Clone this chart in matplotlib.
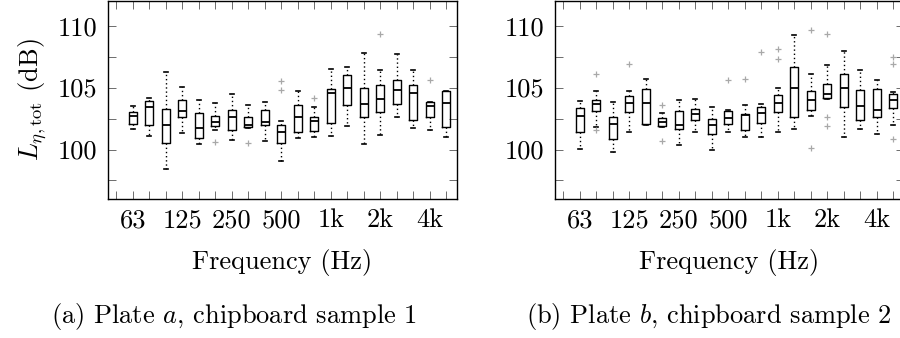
import matplotlib
matplotlib.use("Agg")
import matplotlib.pyplot as plt

plt.rcParams["font.family"] = "cmr10"
plt.rcParams["mathtext.fontset"] = "cm"
plt.rcParams["axes.unicode_minus"] = False
plt.rcParams["font.size"] = 19

# One-third octave bands, 50 Hz .. 5 kHz (50 Hz has no data)
bands = ["50", "63", "80", "100", "125", "160", "200", "250", "315", "400", "500",
         "630", "800", "1k", "1.25k", "1.6k", "2k", "2.5k", "3.15k", "4k", "5k"]
tick_labels_shown = ["63", "125", "250", "500", "1k", "2k", "4k"]

# Plate a, chipboard sample 1
a_whislo = [101.67, 101.13, 98.41, 101.35, 100.44, 101.59, 100.78, 101.75, 100.65, 99.09,
            100.89, 101.05, 101.13, 101.86, 100.44, 101.21, 102.62, 101.73, 101.59, 100.97]
a_q1 = [102.05, 101.97, 100.54, 102.59, 100.95, 101.92, 101.54, 101.81, 101.94, 100.49,
        101.40, 101.49, 102.13, 103.56, 102.62, 103.02, 103.69, 102.40, 102.62, 101.81]
a_med = [102.72, 103.45, 101.94, 103.10, 101.75, 102.21, 102.59, 102.02, 102.24, 101.38,
         102.59, 102.27, 104.58, 105.01, 103.67, 104.10, 104.83, 104.58, 103.53, 103.78]
a_q3 = [103.02, 103.91, 103.26, 103.96, 102.94, 102.67, 103.21, 102.64, 103.18, 101.97,
        103.59, 102.59, 104.91, 106.01, 105.01, 105.23, 105.63, 105.20, 103.80, 104.69]
a_whishi = [103.48, 104.20, 106.23, 105.04, 103.99, 103.72, 104.50, 103.63, 103.83, 102.29,
            104.75, 103.40, 106.52, 106.66, 107.79, 106.42, 107.71, 106.39, 103.83, 104.69]
a_fliers = [[], [], [], [], [], [100.57], [], [100.49], [], [105.53, 104.83],
            [], [104.20], [], [], [], [109.30], [], [], [105.64], []]

# Plate b, chipboard sample 2
b_whislo = [100.06, 101.81, 99.81, 101.38, 101.94, 101.85, 100.38, 101.43, 100.00, 101.43,
            101.05, 100.97, 101.40, 101.62, 102.67, 104.10, 101.05, 101.62, 101.24, 101.94]
b_q1 = [101.38, 103.10, 100.87, 103.07, 102.10, 101.89, 101.67, 102.40, 101.24, 102.05,
        101.54, 102.13, 102.99, 102.62, 103.21, 104.20, 103.40, 102.40, 102.62, 103.32]
b_med = [102.70, 103.69, 102.05, 103.72, 103.78, 102.21, 102.00, 102.83, 102.02, 102.51,
         102.81, 102.97, 103.72, 104.93, 103.96, 104.45, 105.01, 103.53, 103.21, 104.04]
b_q3 = [103.35, 104.02, 102.59, 104.34, 104.88, 102.54, 103.10, 103.26, 102.48, 103.15,
        102.86, 103.43, 104.42, 106.66, 104.69, 105.29, 106.12, 104.83, 104.85, 104.50]
b_whishi = [103.94, 104.69, 103.80, 104.72, 105.69, 102.91, 104.02, 104.07, 103.43, 103.21,
            103.59, 103.67, 104.96, 109.27, 106.09, 106.82, 107.98, 106.39, 105.63, 104.66]
b_fliers = [[], [106.14, 101.57], [], [106.90], [], [103.59, 100.68], [], [], [], [105.61],
            [105.66], [107.87], [108.14, 107.31], [], [109.62, 100.14],
            [109.30, 102.62, 101.89], [], [], [], [107.47, 106.93, 100.84]]

y_ticks = [97.5, 100, 102.5, 105, 107.5, 110]
y_tick_labels = ["", "100", "", "105", "", "110"]


def make_stats(lo, q1, med, q3, hi, fl):
    return [dict(whislo=lo[i], q1=q1[i], med=med[i], q3=q3[i], whishi=hi[i], fliers=fl[i])
            for i in range(len(med))]


def draw(ax, stats, show_ylabel):
    positions = list(range(1, len(stats) + 1))
    ax.bxp(stats, positions=positions, widths=0.5, showfliers=True,
           boxprops=dict(color="black", linewidth=1.0),
           medianprops=dict(color="black", linewidth=1.3),
           whiskerprops=dict(color="black", linewidth=1.0, linestyle=(0, (1, 2))),
           capprops=dict(color="black", linewidth=1.2),
           flierprops=dict(marker="+", markeredgecolor="#a8a8a8", markersize=5,
                           markeredgewidth=0.9, linestyle="none"),
           capwidths=0.22, manage_ticks=False)
    ax.set_xlim(-0.5, 20.65)
    ax.set_ylim(96, 112)
    ax.set_xticks(range(len(bands)))
    ax.set_xticklabels([b if b in tick_labels_shown else "" for b in bands])
    ax.set_yticks(y_ticks)
    ax.set_yticklabels(y_tick_labels)
    ax.tick_params(direction="in", top=True, right=True, length=6, width=0.6,
                   color="#555555", pad=7)
    ax.tick_params(axis="y", pad=8)
    for s in ax.spines.values():
        s.set_linewidth(1.0)
    ax.set_xlabel("Frequency (Hz)", labelpad=12)
    if show_ylabel:
        ax.set_ylabel(r"$L_{\eta,\mathrm{tot}}$ (dB)", labelpad=6)


fig = plt.figure(figsize=(9, 3.38), dpi=100)
ax_a = fig.add_axes([108 / 900, 139 / 338, 349 / 900, 198 / 338])
ax_b = fig.add_axes([555 / 900, 139 / 338, 349 / 900, 198 / 338])

draw(ax_a, make_stats(a_whislo, a_q1, a_med, a_q3, a_whishi, a_fliers), True)
draw(ax_b, make_stats(b_whislo, b_q1, b_med, b_q3, b_whishi, b_fliers), False)

fig.text(234 / 900, 15 / 338, "(a) Plate $a$, chipboard sample 1", ha="center", va="baseline")
fig.text(709 / 900, 15 / 338, "(b) Plate $b$, chipboard sample 2", ha="center", va="baseline")

fig.savefig("out.png", dpi=100)
